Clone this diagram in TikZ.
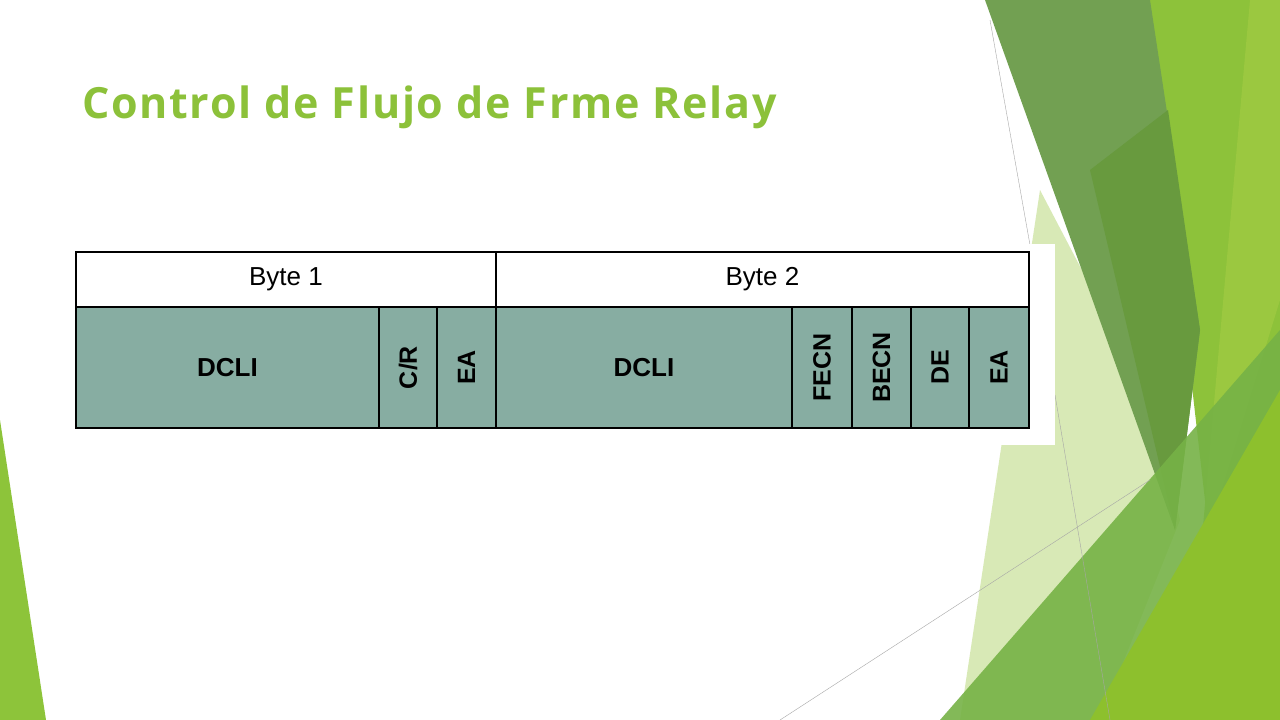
\documentclass[tikz,border=0pt]{standalone}
\usepackage{fontspec}
\setmainfont{Liberation Sans}
\newfontfamily\titlefont[LetterSpace=4]{Open Sans}
\begin{document}
\begin{tikzpicture}[x=1pt,y=-1pt,
  cell/.style={draw=black,line width=1.5pt,fill=cellc},
  lbl/.style={font=\fontsize{25}{25}\selectfont\bfseries,rotate=90},
  gline/.style={draw=gray!70,line width=0.4pt}]
\definecolor{cellc}{HTML}{87ADA2}
\definecolor{titc}{HTML}{8CC13A}
\useasboundingbox (0,0) rectangle (1280,720);
\fill[white] (0,0) rectangle (1280,720);
% decorative shapes
\fill[fill={rgb,255:red,141;green,194;blue,58}] (1148,0) -- (1280,0) -- (1280,720) -- (1230,720) -- cycle;
\fill[fill={rgb,255:red,155;green,200;blue,64}] (1250,0) -- (1280,0) -- (1280,300) -- (1200,560) -- cycle;
\fill[fill={rgb,255:red,210;green,230;blue,170},opacity=0.85] (1040,190) -- (1150,400) -- (1180,520) -- (1100,720) -- (960,720) -- cycle;
\fill[fill={rgb,255:red,114;green,160;blue,82}] (985,0) -- (1150,0) -- (1200,330) -- (1175,530) -- cycle;
\fill[fill={rgb,255:red,104;green,154;blue,62}] (1090,170) -- (1168,110) -- (1200,330) -- (1175,530) -- cycle;
\fill[fill={rgb,255:red,118;green,178;blue,70},opacity=0.9] (1280,330) -- (940,720) -- (1280,720) -- cycle;
\fill[fill={rgb,255:red,141;green,192;blue,45}] (1280,390) -- (1090,720) -- (1280,720) -- cycle;
\fill[fill={rgb,255:red,141;green,196;blue,58}] (0,420) -- (46,720) -- (0,720) -- cycle;
\draw[gline] (990,20) -- (1030,245);
\draw[gline] (1055,395) -- (1110,720);
\draw[gline] (780,720) -- (1150,480);
% table background
\fill[white] (70,244) rectangle (1055,445);
% title
\node[anchor=base west,inner sep=0,text=titc,font=\titlefont\fontsize{43}{43}\selectfont\bfseries] (title) at (82,118) {Control de Flujo de Frme Relay};
% header
\node[draw=black,line width=1.5pt,fill=white,minimum width=420pt,minimum height=55pt,inner sep=0,font=\fontsize{26}{26}\selectfont] (b1) at (286,279.5) {Byte 1};
\node[draw=black,line width=1.5pt,fill=white,minimum width=533pt,minimum height=55pt,inner sep=0,font=\fontsize{26}{26}\selectfont] (b2) at (762.5,279.5) {Byte 2};
% cells
\node[cell,minimum width=303pt,minimum height=121pt,inner sep=0,font=\fontsize{26}{26}\selectfont\bfseries] (d1) at (227.5,367.5) {DCLI};
\node[cell,minimum width=58pt,minimum height=121pt,inner sep=0] (cr) at (408,367.5) {};
\node[lbl] at (cr) {C/R};
\node[cell,minimum width=59pt,minimum height=121pt,inner sep=0] (ea1) at (466.5,367.5) {};
\node[lbl] at (ea1) {EA};
\node[cell,minimum width=296pt,minimum height=121pt,inner sep=0,font=\fontsize{26}{26}\selectfont\bfseries] (d2) at (644,367.5) {DCLI};
\node[cell,minimum width=60pt,minimum height=121pt,inner sep=0] (fe) at (822,367.5) {};
\node[lbl] at (fe) {FECN};
\node[cell,minimum width=59pt,minimum height=121pt,inner sep=0] (be) at (881.5,367.5) {};
\node[lbl] at (be) {BECN};
\node[cell,minimum width=58pt,minimum height=121pt,inner sep=0] (de) at (940,367.5) {};
\node[lbl] at (de) {DE};
\node[cell,minimum width=60pt,minimum height=121pt,inner sep=0] (ea2) at (999,367.5) {};
\node[lbl] at (ea2) {EA};
\end{tikzpicture}
\end{document}
